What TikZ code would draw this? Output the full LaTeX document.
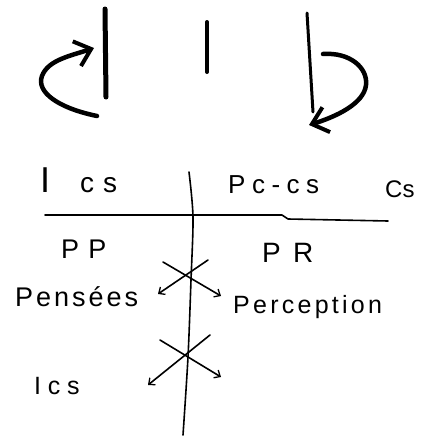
\documentclass[tikz,border=0pt]{standalone}
\usepackage{fontspec}
\setmainfont{Liberation Sans}
\usetikzlibrary{arrows.meta}
\begin{document}
\begin{tikzpicture}[x=1pt,y=-1pt,
  heavy/.style={line width=4.5pt, line cap=round, line join=round},
  rule/.style={line width=1.6pt, line cap=round, line join=round},
  bigarrow/.style={-{Straight Barb[length=15pt,width=26pt,line width=4pt]}},
  smallarrow/.style={-{Straight Barb[length=5pt,width=9pt,line width=1.3pt]}},
  lbl/.style={anchor=base west, inner sep=0pt}]
\useasboundingbox (0,0) rectangle (437,439);
% top bars
\coordinate (lb0) at (105,9);   \coordinate (lb1) at (106,97);
\coordinate (mb0) at (207,22);  \coordinate (mb1) at (207,72);
\coordinate (rb0) at (307,13);  \coordinate (rb1) at (313,112);
\draw[line width=5pt, line cap=round] (lb0) -- (lb1);
\draw[line width=4pt, line cap=round] (mb0) -- (mb1);
\draw[line width=3pt, line cap=round] (rb0) -- (rb1);
% curved arrows
\coordinate (la0) at (97,116); \coordinate (la1) at (94,48);
\draw[heavy, bigarrow] (la0) .. controls (58,108) and (36,92) .. (42,76)
      .. controls (48,60) and (70,56) .. (la1);
\coordinate (ra0) at (323,54); \coordinate (ra1) at (309,125);
\draw[heavy, bigarrow] (ra0) .. controls (350,52) and (368,68) .. (366,85)
      .. controls (364,104) and (335,117) .. (ra1);
% table
\coordinate (h0) at (45,215); \coordinate (h1) at (282,215);
\coordinate (h2) at (288,219); \coordinate (h3) at (388,221);
\draw[rule] (h0) -- (h1) -- (h2) -- (h3);
\draw[rule] plot[smooth] coordinates {(189,172) (193,217) (191,280) (188,357) (183,435)};
% labels
\node[lbl] (ics1) at (40,192) {\fontsize{36}{40}\selectfont I\hspace{30pt}\fontsize{28}{32}\selectfont c\hspace{9pt}s};
\node[lbl] (pccs) at (228,193) {\fontsize{26}{30}\selectfont\addfontfeature{LetterSpace=25}Pc-cs};
\node[lbl] (cs) at (385,197) {\fontsize{24}{28}\selectfont Cs};
\node[lbl] (pp) at (61,258) {\fontsize{27}{30}\selectfont\addfontfeature{LetterSpace=6}P P};
\node[lbl] (pr) at (262,262) {\fontsize{28}{32}\selectfont\addfontfeature{LetterSpace=16}P R};
\node[lbl] (pens) at (15,306) {\fontsize{27}{30}\selectfont\addfontfeature{LetterSpace=11}Pensées};
\node[lbl] (perc) at (233,313) {\fontsize{25}{30}\selectfont\addfontfeature{LetterSpace=13}Perception};
\node[lbl] (ics2) at (34,394) {\fontsize{25}{30}\selectfont\addfontfeature{LetterSpace=27}Ics};
% crosses
\coordinate (xa0) at (163,262); \coordinate (xa1) at (221,296);
\coordinate (xb0) at (208,260); \coordinate (xb1) at (158,294);
\coordinate (xc0) at (160,340); \coordinate (xc1) at (221,377);
\coordinate (xd0) at (210,335); \coordinate (xd1) at (148,385);
\draw[rule, smallarrow] (xa0) -- (xa1);
\draw[rule, smallarrow] (xb0) -- (xb1);
\draw[rule, smallarrow] (xc0) -- (xc1);
\draw[rule, smallarrow] (xd0) -- (xd1);
\end{tikzpicture}
\end{document}
